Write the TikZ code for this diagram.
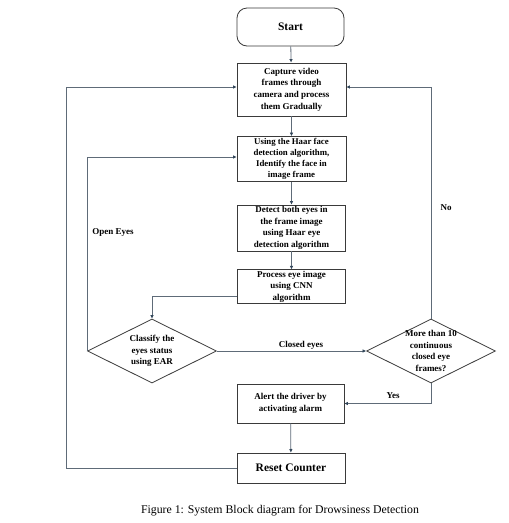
\documentclass[tikz,border=0pt]{standalone}
\usepackage{fontspec}
\setmainfont{Liberation Serif}
\usetikzlibrary{shapes.geometric,arrows.meta}
\definecolor{boxline}{HTML}{3A3A3A}
\definecolor{connline}{HTML}{5E6B78}
\definecolor{tip}{HTML}{33475B}
\begin{document}
\begin{tikzpicture}[x=1pt,y=-1pt,
  box/.style={draw=boxline,line width=0.8pt,align=center,inner sep=1pt,
    font=\bfseries\fontsize{9}{11.6}\selectfont,text=black},
  bigbox/.style={box,font=\bfseries\fontsize{11.5}{13}\selectfont},
  dia/.style={draw=boxline,line width=0.8pt,diamond,inner sep=0pt,
    minimum width=129pt,minimum height=64pt},
  diatext/.style={align=center,font=\bfseries\fontsize{9}{11.6}\selectfont,inner sep=0pt},
  conn/.style={draw=connline,line width=0.8pt,-{Latex[length=3.5pt,width=3.5pt,color=tip]}},
  lbl/.style={font=\bfseries\fontsize{9}{11}\selectfont,inner sep=1pt}]
\useasboundingbox (0,0) rectangle (509,523);
\fill[white] (0,0) rectangle (509,523);
\node[bigbox,rounded corners=10pt,minimum width=107pt,minimum height=38pt] (start) at (290.5,27) {Start};
\node[box,minimum width=109pt,minimum height=53pt] (cap) at (291.5,89.5) {Capture video\\frames through\\camera and process\\them Gradually};
\node[box,minimum width=109pt,minimum height=45pt,font=\bfseries\fontsize{8.8}{10.9}\selectfont] (haar) at (291.5,159) {Using the Haar face\\detection algorithm,\\Identify the face in\\image frame};
\node[box,minimum width=108pt,minimum height=46pt] (eyes) at (291.5,228) {Detect both eyes in\\the frame image\\using Haar eye\\detection algorithm};
\node[box,minimum width=108pt,minimum height=33pt] (proc) at (291.5,286.5) {Process eye image\\using CNN\\algorithm};
\node[dia,label={[diatext]center:{Classify the\\eyes status\\using EAR}}] (c1) at (152,351) {};
\node[dia,label={[diatext]center:{More than 10\\continuous\\closed eye\\frames?}}] (c2) at (431,351) {};
\node[box,minimum width=107pt,minimum height=39pt] (alert) at (290.5,403.5) {Alert the driver by\\activating alarm};
\node[bigbox,minimum width=108pt,minimum height=30pt] (reset) at (291,468) {Reset Counter};
\coordinate (lft) at (66,0);
\draw[conn] (start) -- (cap);
\draw[conn] (cap) -- (haar);
\draw[conn] (haar) -- (eyes);
\draw[conn] (eyes) -- (proc);
\draw[conn] ([yshift=-10pt]proc.west) -| (c1.north);
\draw[conn] (c1.east) -- (c2.west);
\draw[conn] (c2.north) |- ([yshift=2.5pt]cap.east);
\draw[conn] (c1.west) |- ([yshift=2pt]haar.west);
\draw[conn] (c2.south) |- (alert.east);
\draw[conn] (alert) -- (reset);
\draw[conn] (reset.west) -- (reset.west -| lft) |- ([yshift=2.5pt]cap.west);
\node[lbl] (lopen) at (113,232) {Open Eyes};
\node[lbl] (lno) at (446,208) {No};
\node[lbl] (lyes) at (393,396) {Yes};
\node[lbl] (lclosed) at (301,345) {Closed eyes};
\node[font=\fontsize{11.8}{13}\selectfont,inner sep=0pt] (cap1) at (280,511) {Figure 1: System Block diagram for Drowsiness Detection};
\end{tikzpicture}
\end{document}
